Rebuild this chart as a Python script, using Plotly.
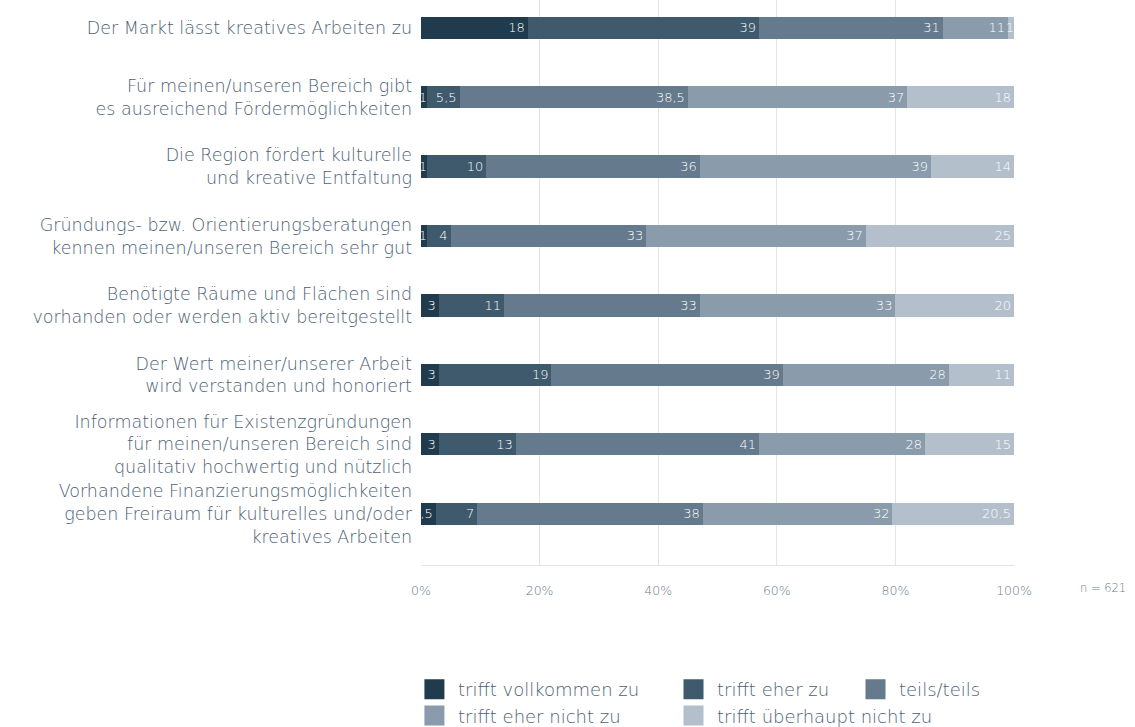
import plotly.graph_objects as go

# Statements (top to bottom)
statements = [
    "Der Markt lässt kreatives Arbeiten zu",
    "Für meinen/unseren Bereich gibt<br>es ausreichend Fördermöglichkeiten",
    "Die Region fördert kulturelle<br>und kreative Entfaltung",
    "Gründungs- bzw. Orientierungsberatungen<br>kennen meinen/unseren Bereich sehr gut",
    "Benötigte Räume und Flächen sind<br>vorhanden oder werden aktiv bereitgestellt",
    "Der Wert meiner/unserer Arbeit<br>wird verstanden und honoriert",
    "Informationen für Existenzgründungen<br>für meinen/unseren Bereich sind<br>qualitativ hochwertig und nützlich",
    "Vorhandene Finanzierungsmöglichkeiten<br>geben Freiraum für kulturelles und/oder<br>kreatives Arbeiten",
]

# Answer categories
answers = [
    "trifft vollkommen zu",
    "trifft eher zu",
    "teils/teils",
    "trifft eher nicht zu",
    "trifft überhaupt nicht zu",
]

# Shares in percent per answer category (one value per statement)
vollkommen = [18, 1, 1, 1, 3, 3, 3, 2.5]
eher = [39, 5.5, 10, 4, 11, 19, 13, 7]
teils = [31, 38.5, 36, 33, 33, 39, 41, 38]
eher_nicht = [11, 37, 39, 37, 33, 28, 28, 32]
ueberhaupt_nicht = [1, 18, 14, 25, 20, 11, 15, 20.5]

series = [vollkommen, eher, teils, eher_nicht, ueberhaupt_nicht]
colors = ["#1f3b4d", "#405a6d", "#657a8d", "#8a9bab", "#b3c0cc"]

x_ticks = [0, 20, 40, 60, 80, 100]
x_ticktext = ["0%", "20%", "40%", "60%", "80%", "100%"]
sample_note = "n = 621"

FONT = "DejaVu Sans"
TEXT_GREY = "#4c6174"
TICK_GREY = "#6a7b8a"


def de_num(v):
    return f"{v:g}".replace(".", ",")


fig = go.Figure()

for name, vals, col in zip(answers, series, colors):
    fig.add_trace(go.Bar(
        y=statements,
        x=vals,
        name=name,
        orientation="h",
        width=0.32,
        marker=dict(color=col, line=dict(width=0)),
        text=[de_num(v) for v in vals],
        textposition="inside",
        insidetextanchor="end",
        textangle=0,
        textfont=dict(family=FONT, size=13, color="white", weight=300),
        showlegend=False,
        hoverinfo="skip",
    ))

# Legend entries in three columns, two rows
legend_slots = ["legend", "legend2", "legend3", "legend", "legend2"]
legend_rows = ["row1", "row1", "row1", "row2", "row2"]
for name, col, lg, row in zip(answers, colors, legend_slots, legend_rows):
    fig.add_trace(go.Scatter(
        x=[None], y=[None],
        mode="markers",
        name=name,
        legendgroup=row,
        marker=dict(symbol="square", size=22, color=col,
                    line=dict(color=col, width=4)),
        legend=lg,
        showlegend=True,
    ))

legend_style = dict(
    orientation="v",
    xanchor="left",
    traceorder="grouped",
    tracegroupgap=0,
    itemwidth=37,
    font=dict(family=FONT, size=18, color=TEXT_GREY, weight=300),
    bgcolor="rgba(0,0,0,0)",
    borderwidth=0,
    itemclick=False,
    itemdoubleclick=False,
)

fig.update_layout(
    width=1135,
    height=727,
    margin=dict(l=421, r=121, t=0, b=162, autoexpand=False),
    paper_bgcolor="white",
    plot_bgcolor="white",
    barmode="stack",
    bargap=0.68,
    uniformtext=dict(mode="show", minsize=13),
    font=dict(family=FONT, color=TEXT_GREY),
    xaxis=dict(
        range=[0, 100],
        tickvals=x_ticks,
        ticktext=x_ticktext,
        showgrid=True,
        gridcolor="#e2e5e8",
        gridwidth=1,
        showline=True,
        linecolor="#e2e5e8",
        linewidth=1,
        zeroline=False,
        ticks="",
        ticklabelstandoff=14,
        tickfont=dict(family=FONT, size=12.5, color=TICK_GREY, weight=300),
        fixedrange=True,
    ),
    yaxis=dict(
        type="category",
        categoryorder="array",
        categoryarray=statements,
        range=[7.74, -0.40],
        showgrid=False,
        zeroline=False,
        showline=False,
        ticks="",
        ticklabelstandoff=8,
        tickfont=dict(family=FONT, size=17.5, color=TEXT_GREY, weight=300),
        fixedrange=True,
    ),
    legend=dict(legend_style, x=-0.017, y=-0.1876, yanchor="top"),
    legend2=dict(legend_style, x=0.4199, y=-0.1876, yanchor="top"),
    legend3=dict(legend_style, x=0.7268, y=-0.1876, yanchor="top"),
    annotations=[
        dict(
            text=sample_note,
            xref="paper", yref="paper",
            x=1.15, y=-0.041,
            xanchor="center", yanchor="middle",
            showarrow=False,
            font=dict(family=FONT, size=11.5, color=TICK_GREY, weight=300),
        )
    ],
)

fig.write_html("out.html")
